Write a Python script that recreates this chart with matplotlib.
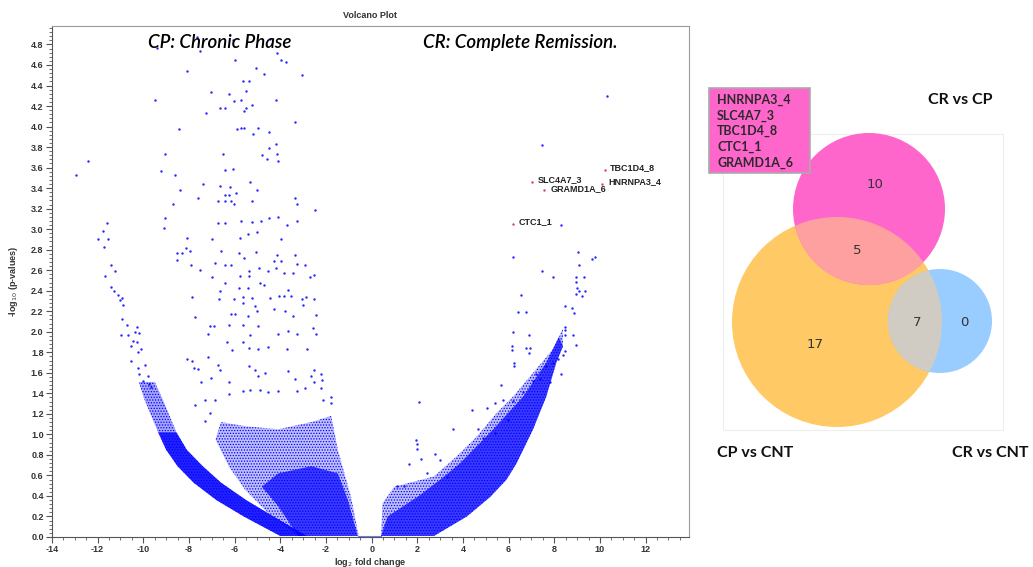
import matplotlib
matplotlib.use("Agg")
import matplotlib.pyplot as plt
from matplotlib.patches import Circle, Rectangle
from matplotlib.ticker import MultipleLocator, FormatStrFormatter

# ---------------- volcano data ----------------
sparse_left = [
(-7.64,4.87),(-9.38,4.77),(-7.52,4.74),(-6.07,4.84),(-4.45,4.85),(-4.16,4.72),(-6.0,4.65),(-3.99,4.65),(-3.77,4.63),
(-8.10,4.54),(-5.07,4.57),(-4.70,4.51),(-3.07,4.50),(-5.64,4.44),(-5.35,4.44),(-5.49,4.35),(-7.04,4.34),(-6.26,4.32),
(-9.48,4.26),(-6.01,4.25),(-5.71,4.26),(-4.20,4.26),(-5.25,4.21),(-6.65,4.18),(-6.41,4.18),(-5.51,4.18),(-5.57,4.15),
(-7.25,4.13),(-3.36,4.04),(-8.43,3.98),(-5.90,3.98),(-5.71,3.99),(-5.59,3.99),(-4.97,3.99),(-5.19,3.93),(-4.48,3.95),
(-4.20,3.83),(-4.48,3.79),(-9.07,3.73),(-6.52,3.73),(-4.80,3.72),(-4.16,3.73),(-4.58,3.68),(-4.12,3.66),(-12.42,3.66),
(-12.93,3.53),(-9.23,3.57),(-8.61,3.53),(-6.43,3.58),(-6.09,3.59),(-5.32,3.46),(-7.39,3.44),(-6.62,3.42),(-6.19,3.41),
(-8.41,3.38),(-5.03,3.38),(-5.94,3.35),(-6.43,3.33),(-6.26,3.33),(-7.62,3.30),(-6.72,3.27),(-6.41,3.27),(-6.14,3.27),
(-6.01,3.25),(-5.25,3.27),(-3.35,3.30),(-8.68,3.25),(-3.29,3.25),
(-2.49,3.19),(-9.04,3.11),(-9.09,3.01),(-11.59,3.06),(-11.77,2.98),(-11.99,2.90),(-11.55,2.90),(-11.74,2.83),(-6.72,3.06),
(-6.41,3.06),(-5.71,3.08),(-5.25,3.07),(-4.84,3.08),(-4.48,3.11),(-4.12,3.12),(-3.29,3.08),(-3.72,3.04),(-3.99,2.90),
(-5.03,2.97),(-5.42,2.95),(-5.75,2.91),(-6.99,2.90),(-8.10,2.91),(-8.14,2.82),(-7.97,2.79),(-8.32,2.77),(-8.54,2.77),
(-8.51,2.70),(-6.59,2.79),(-5.83,2.77),(-5.07,2.78),(-5.61,2.72),(-3.36,2.75),(-4.16,2.75),(-4.26,2.69),(-3.99,2.69),
(-6.84,2.67),(-6.43,2.65),(-6.16,2.65),(-7.90,2.65),(-11.41,2.65),(-11.23,2.59),(-11.70,2.54),(-7.52,2.60),(-5.35,2.59),
(-4.93,2.62),(-4.55,2.59),(-4.20,2.62),(-3.29,2.66),(-2.90,2.65),(-7.01,2.53),(-6.43,2.48),(-5.78,2.54),(-5.35,2.54),
(-4.91,2.48),(-3.83,2.57),(-3.43,2.57),(-2.71,2.53),(-2.53,2.55),(-11.43,2.44),(-11.29,2.40),(-11.12,2.36),(-10.93,2.33),
(-11.04,2.31),(-10.90,2.26),(-6.62,2.40),(-5.83,2.43),(-5.43,2.43),(-4.70,2.46),(-3.65,2.41),(-7.88,2.34),(-6.68,2.32),
(-6.01,2.32),(-5.62,2.34),(-5.25,2.33),(-4.45,2.33),(-4.04,2.35),(-3.86,2.35),(-3.55,2.35),(-2.88,2.34),(-2.53,2.32),
(-5.64,2.28),(-5.10,2.25),(-3.0,2.26),(-3.07,2.32),(-4.28,2.22),(-3.80,2.20),(-5.0,2.20),(-6.16,2.17),(-5.99,2.17),
(-5.42,2.15),(-3.43,2.15),(-2.42,2.16),(-7.74,2.14),(-10.93,2.12),(-10.72,2.07),(-10.29,2.05),(-10.96,1.97),(-10.65,1.97),
(-10.36,2.00),(-10.17,1.99),(-10.46,1.91),(-10.29,1.90),(-10.54,1.86),(-10.10,1.83),(-10.25,1.80),(-10.54,1.72),(-9.91,1.68),
(-10.25,1.65),(-10.17,1.59),(-9.81,1.57),(-10.0,1.52),(-9.77,1.49),(-9.67,1.46),
(-7.10,2.06),(-6.91,2.06),(-7.16,1.98),(-6.26,2.07),(-5.64,2.07),(-4.96,2.06),(-4.09,1.98),(-3.68,2.01),(-3.29,1.98),
(-2.57,2.04),(-2.42,1.98),(-2.83,1.83),(-3.72,1.83),(-4.52,1.85),(-4.99,1.83),(-5.35,1.84),(-5.64,1.90),(-6.12,1.82),
(-6.35,1.90),(-5.32,1.97),(-8.07,1.73),(-7.88,1.72),(-7.16,1.75),(-7.77,1.65),(-7.59,1.64),(-7.04,1.55),(-7.48,1.51),
(-6.74,1.68),(-6.62,1.63),(-6.26,1.51),(-5.35,1.67),(-5.13,1.63),(-4.99,1.57),(-4.68,1.60),(-3.65,1.62),(-3.36,1.54),
(-2.53,1.63),(-2.64,1.57),(-2.23,1.59),(-2.17,1.53),(-2.20,1.45),(-2.53,1.51),(-2.93,1.45),(-3.29,1.42),(-4.09,1.42),
(-4.52,1.41),(-4.88,1.43),(-5.64,1.42),(-5.32,1.43),(-6.23,1.39),(-6.84,1.34),(-7.28,1.34),(-7.74,1.29),(-7.06,1.21),
(-7.30,1.13),(-1.80,1.36),(-1.77,1.31),(-2.14,1.34),
]
sparse_right = [
(8.30,3.04),(6.20,2.73),(9.03,2.78),(9.65,2.71),(9.78,2.73),(7.48,2.59),(7.94,2.53),(9.07,2.65),(8.93,2.53),(9.32,2.53),
(8.93,2.49),(9.0,2.43),(9.1,2.40),(9.35,2.40),(8.93,2.37),(9.22,2.35),(6.54,2.36),(6.39,2.19),(6.75,2.19),(8.45,2.25),
(8.77,2.23),(8.88,2.18),(6.20,2.0),(6.90,1.97),(8.45,2.05),(8.48,2.02),(8.48,1.97),(8.84,1.97),(8.96,1.87),(6.16,1.86),
(6.16,1.82),(6.75,1.84),(6.93,1.84),(6.90,1.79),(6.25,1.70),(6.25,1.67),(2.07,1.32),(5.65,1.48),(6.61,1.41),(6.20,1.33),
(5.77,1.34),(5.41,1.31),(4.39,1.24),(5.04,1.26),(3.57,1.05),(1.93,0.95),(1.97,0.91),(1.97,0.86),(2.77,0.81),(2.99,0.75),
(2.14,0.76),(1.64,0.71),(1.13,0.50),(1.42,0.50),(3.30,0.58),(2.41,0.62),(4.67,1.05),(4.88,0.96),(5.39,1.01),(5.97,1.14),
(7.65,1.67),(7.94,1.70),(8.16,1.73),(8.38,1.77),(8.48,1.81),(8.30,1.59),(7.83,1.51),(7.22,1.59),(7.07,1.52),(7.36,1.54),
(10.29,4.30),(7.45,3.82),
]
sparse_x = [p[0] for p in sparse_left + sparse_right]
sparse_y = [p[1] for p in sparse_left + sparse_right]

gene_names = ["TBC1D4_8", "HNRNPA3_4", "SLC4A7_3", "GRAMD1A_6", "CTC1_1"]
gene_x = [10.20, 10.10, 7.04, 7.57, 6.20]
gene_y = [3.58, 3.44, 3.46, 3.38, 3.05]

# envelopes of the dense point clouds (data coordinates)
band_levels_y = [0.01, 0.20, 0.36, 0.53, 0.69, 0.85, 1.02, 1.18, 1.34, 1.51]
band_outer_x = [-4.0, -5.6, -6.8, -7.8, -8.5, -9.0, -9.35, -9.65, -9.95, -10.2]
band_inner_x = [-2.85, -4.3, -5.5, -6.6, -7.4, -8.1, -8.55, -8.85, -9.15, -9.5]

center_mid = [(-3.22,0.01),(-4.52,0.23),(-5.54,0.46),(-6.26,0.69),(-6.84,0.95),(-6.60,1.12),(-5.54,1.08),
              (-4.09,1.05),(-2.64,1.12),(-1.77,1.18),(-1.48,0.85),(-0.9,0.39),(-0.57,0.01)]
center_core = [(-3.22,0.01),(-4.09,0.30),(-4.81,0.49),(-4.09,0.62),(-2.64,0.69),(-1.48,0.62),(-1.04,0.36),(-0.61,0.01)]

ridge_lower = [(0.41,0.01),(2.73,0.01),(4.17,0.20),(5.19,0.39),(5.91,0.56),(6.35,0.72),(7.07,1.05),(7.65,1.37),
               (8.09,1.70),(8.38,1.86)]
ridge_upper = [(8.2,1.95),(7.65,1.70),(6.64,1.37),(5.33,1.05),(3.88,0.72),(3.01,0.56),(2.0,0.39),(0.70,0.20)]
right_mid_upper = [(8.38,2.03),(7.94,1.83),(7.07,1.60),(6.2,1.37),(5.48,1.21),(4.61,0.98),(3.74,0.79),(2.73,0.59),
                   (0.99,0.49),(0.48,0.33)]

zero_x = [-0.6, 0.45]
zero_y = [0.0, 0.0]

# ---------------- venn data ----------------
venn_sets = ["CR vs CP", "CP vs CNT", "CR vs CNT"]
venn_counts = {"CRvsCP_only": 10, "CRvsCP_CPvsCNT": 5, "CPvsCNT_only": 17,
               "CPvsCNT_CRvsCNT": 7, "CRvsCNT_only": 0}
shared_genes = ["HNRNPA3_4", "SLC4A7_3", "TBC1D4_8", "CTC1_1", "GRAMD1A_6"]

# ---------------- figure ----------------
plt.rcParams["hatch.linewidth"] = 0.6
fig = plt.figure(figsize=(10.33, 5.67), dpi=100)
ax = fig.add_axes([52/1033, 30/567, 637/1033, 511/567])
ax.set_xlim(-14, 13.9)
ax.set_ylim(0, 4.98)

BLUE = "#0000ff"


def cloud(points, alpha, hatch=None):
    xs = [p[0] for p in points]
    ys = [p[1] for p in points]
    ax.fill(xs, ys, facecolor=(0, 0, 1, alpha), edgecolor=BLUE if hatch else "none",
            lw=0, hatch=hatch)


band_poly = list(zip(band_outer_x, band_levels_y)) + list(zip(band_inner_x, band_levels_y))[::-1]
band_core = list(zip(band_outer_x[:7], band_levels_y[:7])) + list(zip(band_inner_x[:7], band_levels_y[:7]))[::-1]
cloud(band_poly, 0.35, "......")
cloud(band_core, 0.8)
cloud(center_mid, 0.25, "......")
cloud(center_core, 0.7)
cloud(ridge_lower + right_mid_upper, 0.25, "......")
cloud(ridge_lower + ridge_upper, 0.7)
ax.plot(zero_x, zero_y, color="#7777ff", lw=1.5, solid_capstyle="butt", clip_on=False)

ax.scatter(sparse_x, sparse_y, s=3, color=BLUE, lw=0, alpha=0.85)
ax.scatter(gene_x, gene_y, s=3, color="#e0405a", lw=0)
for name, gx, gy in zip(gene_names, gene_x, gene_y):
    ax.text(gx + 0.25, gy + 0.02, name, fontsize=6.5, fontweight="bold",
            family="Liberation Sans", color="#222222", va="center", ha="left")

# axes style
for s in ["top", "right"]:
    ax.spines[s].set_color("#9a9a9a")
for s in ["left", "bottom"]:
    ax.spines[s].set_color("#555555")
ax.xaxis.set_major_locator(MultipleLocator(2))
ax.xaxis.set_minor_locator(MultipleLocator(0.5))
ax.yaxis.set_major_locator(MultipleLocator(0.2))
ax.yaxis.set_minor_locator(MultipleLocator(0.04))
ax.yaxis.set_major_formatter(FormatStrFormatter("%.1f"))
ax.tick_params(which="major", direction="out", length=4, width=0.8, color="#555555",
               labelsize=6.5, pad=2)
ax.tick_params(which="minor", direction="out", length=2.5, width=0.6, color="#555555")
for lab in ax.get_yticklabels():
    lab.set_fontweight("bold")
    lab.set_family("Liberation Sans")
    lab.set_color("#333333")
xt = list(range(-14, 13, 2))
ax.set_xticks(xt)
ax.set_xticklabels([str(v) for v in xt], fontweight="bold", family="Liberation Sans", color="#333333")
ax.set_xlabel("log$_2$ fold change", fontsize=6.5, fontweight="bold", family="Liberation Sans",
              color="#333333", labelpad=1)
ax.set_ylabel("-log$_{10}$ (p-values)", fontsize=6.5, fontweight="bold", family="Liberation Sans",
              color="#333333", labelpad=8)
ax.set_title("Volcano Plot", fontsize=6.5, fontweight="bold", family="Liberation Sans",
             color="#333333", pad=6)
ax.text(-6.65, 4.82, "CP: Chronic Phase", fontsize=13.5, style="italic", fontweight="semibold",
        family="Lato", ha="center", va="center", color="#000000")
ax.text(6.5, 4.82, "CR: Complete Remission.", fontsize=13.5, style="italic", fontweight="semibold",
        family="Lato", ha="center", va="center", color="#000000")

# ---------------- venn ----------------
vx = fig.add_axes([700/1033, 0, 333/1033, 1])
vx.set_xlim(700, 1033)
vx.set_ylim(567, 0)
vx.axis("off")

vx.add_patch(Rectangle((723, 134), 280, 296, fill=False, ec="#eeeeee", lw=0.8))
PINK, ORANGE, LBLUE = "#ff66cc", "#ffc966", "#99ccff"
orange = Circle((837, 322), 105, color=ORANGE, lw=0)
blue = Circle((940, 321), 52, color=LBLUE, lw=0)
pink = Circle((869, 209), 76, color=PINK, lw=0)
for c in (orange, blue, pink):
    vx.add_patch(c)
pk_or = Circle((869, 209), 76, color="#ffa0a0", lw=0)
vx.add_patch(pk_or)
pk_or.set_clip_path(orange)
bl_or = Circle((940, 321), 52, color="#d0ccc4", lw=0)
vx.add_patch(bl_or)
bl_or.set_clip_path(orange)

num_kw = dict(fontsize=9.5, family="DejaVu Sans", color="#333333", ha="center", va="center")
vx.text(875.5, 185, str(venn_counts["CRvsCP_only"]), **num_kw)
vx.text(857, 251, str(venn_counts["CRvsCP_CPvsCNT"]), **num_kw)
vx.text(815, 344, str(venn_counts["CPvsCNT_only"]), **num_kw)
vx.text(917, 322, str(venn_counts["CPvsCNT_CRvsCNT"]), **num_kw)
vx.text(964, 322, str(venn_counts["CRvsCNT_only"]), **num_kw)

set_kw = dict(fontsize=11.5, fontweight="bold", family="Lato", color="#111111", va="center")
vx.text(928, 100, venn_sets[0], ha="left", **set_kw)
vx.text(717, 453, venn_sets[1], ha="left", **set_kw)
vx.text(1028, 453, venn_sets[2], ha="right", **set_kw)

vx.add_patch(Rectangle((709, 88), 101, 85, fc=PINK, ec="#aaaaaa", lw=1.2))
for i, g in enumerate(shared_genes):
    vx.text(717, 100 + i * 15.6, g, fontsize=9, fontweight="bold", family="Lato",
            color="#2a2a2a", va="center", ha="left")

fig.savefig("out.png", dpi=100)
